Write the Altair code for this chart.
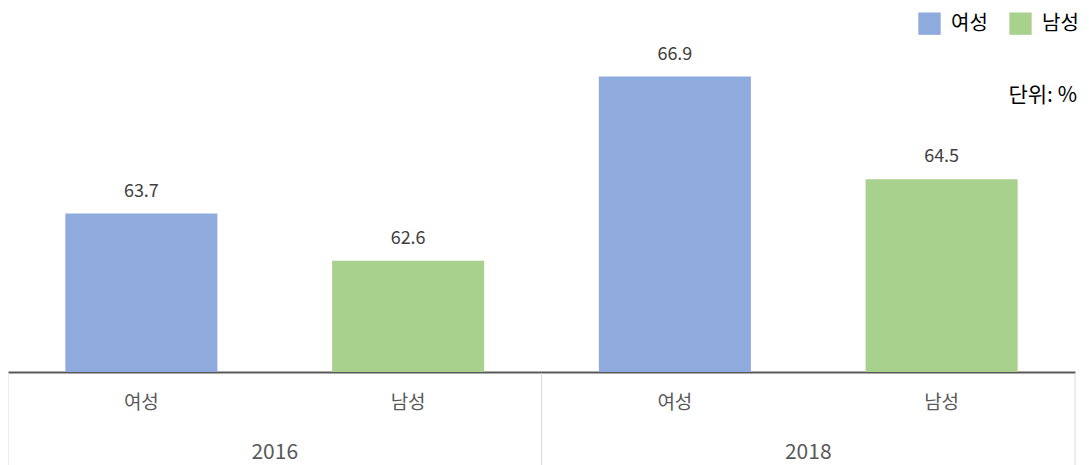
import altair as alt
import pandas as pd

years = ["2016", "2016", "2018", "2018"]
genders = ["여성", "남성", "여성", "남성"]
values = [63.7, 62.6, 66.9, 64.5]
gender_order = ["여성", "남성"]
colors = ["#8FAADC", "#A9D18E"]
unit_text = "단위: %"

df = pd.DataFrame({"year": years, "gender": genders, "value": values})
year_df = pd.DataFrame({"year": sorted(set(years))})
FONT = "Noto Sans CJK KR"

x_enc = alt.X("year:N", scale=alt.Scale(paddingInner=0, paddingOuter=0),
              axis=alt.Axis(labels=False, ticks=False, title=None, domain=True,
                            domainColor="#595959", domainWidth=2, grid=False))
xoff = alt.XOffset("gender:N", sort=gender_order,
                   scale=alt.Scale(paddingInner=0.43, paddingOuter=0.215))
y_scale = alt.Scale(domain=[60, 68.5], zero=False, nice=False)

base = alt.Chart(df)

bars = base.mark_bar().encode(
    x=x_enc,
    xOffset=xoff,
    y=alt.Y("value:Q", scale=y_scale, axis=None),
    y2=alt.datum(60),
    color=alt.Color("gender:N", sort=gender_order,
                    scale=alt.Scale(domain=gender_order, range=colors),
                    legend=alt.Legend(title=None, orient="none", legendX=910, legendY=4,
                                      direction="horizontal", symbolType="square",
                                      symbolSize=500, symbolStrokeWidth=0,
                                      symbolOpacity=1,
                                      labelFontSize=20, labelColor="#000000",
                                      labelFont=FONT, labelOffset=10, columnPadding=21)),
)

value_labels = base.mark_text(font=FONT, fontSize=18, color="#404040",
                              baseline="middle", dy=-22).encode(
    x=alt.X("year:N"),
    xOffset=alt.XOffset("gender:N", sort=gender_order),
    y=alt.Y("value:Q", scale=y_scale),
    text=alt.Text("value:Q", format=".1f"),
)

gender_labels = base.mark_text(font=FONT, fontSize=19, color="#595959",
                               baseline="middle").encode(
    x=alt.X("year:N"),
    xOffset=alt.XOffset("gender:N", sort=gender_order),
    y=alt.value(395),
    text="gender:N",
)

year_base = alt.Chart(year_df)
year_labels = year_base.mark_text(font=FONT, fontSize=21, color="#595959",
                                  baseline="middle").encode(
    x=alt.X("year:N"),
    y=alt.value(445),
    text="year:N",
)

sep_left = year_base.mark_rule(color="#D9D9D9", strokeWidth=1).encode(
    x=alt.X("year:N", bandPosition=0),
    y=alt.value(365),
    y2=alt.value(470),
)
sep_right = year_base.mark_rule(color="#D9D9D9", strokeWidth=1).encode(
    x=alt.X("year:N", bandPosition=1),
    y=alt.value(365),
    y2=alt.value(470),
)

unit = alt.Chart(pd.DataFrame({"t": [unit_text]})).mark_text(
    font=FONT, fontSize=21, color="#000000", align="right", baseline="middle"
).encode(x=alt.value(1069), y=alt.value(88), text="t:N")

chart = alt.layer(sep_left, sep_right, bars, value_labels, gender_labels,
                  year_labels, unit).properties(
    width=1067, height=364,
    autosize=alt.AutoSizeParams(type="none"),
    padding={"left": 0, "top": 0, "right": 7, "bottom": 93},
).configure(font=FONT).configure_view(stroke=None)

chart.save("out.html", embed_options={"renderer": "svg", "actions": False})
